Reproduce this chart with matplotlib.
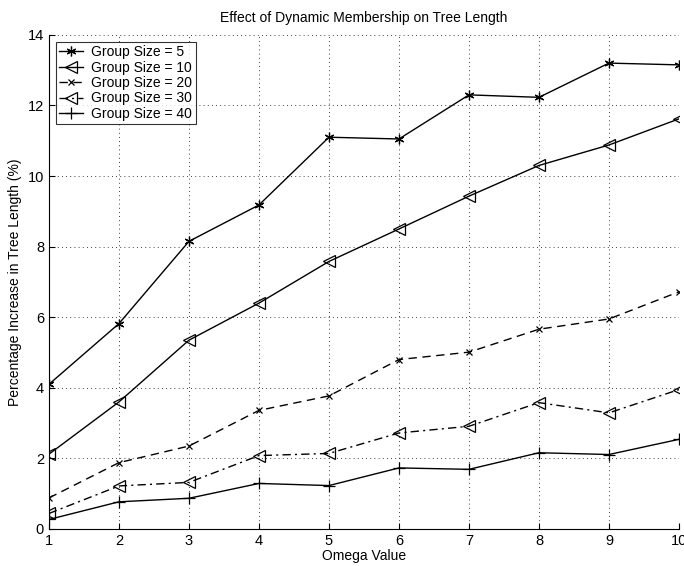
import matplotlib
matplotlib.use("Agg")
import matplotlib.pyplot as plt

plt.rcParams['font.family'] = ['Liberation Sans', 'DejaVu Sans']

# omega values on the x axis
omega = [1, 2, 3, 4, 5, 6, 7, 8, 9, 10]

# percentage increase in tree length, one list per group size
gs5 = [4.1, 5.82, 8.15, 9.18, 11.1, 11.05, 12.3, 12.23, 13.2, 13.15]
gs10 = [2.12, 3.6, 5.35, 6.4, 7.58, 8.5, 9.43, 10.3, 10.88, 11.62]
gs20 = [0.88, 1.88, 2.35, 3.36, 3.77, 4.8, 5.01, 5.66, 5.95, 6.72]
gs30 = [0.44, 1.22, 1.32, 2.08, 2.14, 2.72, 2.91, 3.58, 3.29, 3.95]
gs40 = [0.27, 0.77, 0.87, 1.29, 1.23, 1.73, 1.69, 2.16, 2.11, 2.54]

labels = ['Group Size = 5', 'Group Size = 10', 'Group Size = 20',
          'Group Size = 30', 'Group Size = 40']

fig = plt.figure(figsize=(6.84, 5.66), dpi=100)
ax = fig.add_axes([0.0716, 0.0654, 0.921, 0.873])

ax.plot(omega, gs5, color='black', lw=1, ls='-', marker=(6, 2, 0), ms=7, mew=0.9, label=labels[0])
ax.plot(omega, gs10, color='black', lw=1, ls='-', marker='<', ms=8, mfc='none', mew=0.9, label=labels[1])
ax.plot(omega, gs20, color='black', lw=1, ls=(0, (6, 4)), marker='x', ms=5, mew=0.9, label=labels[2])
ax.plot(omega, gs30, color='black', lw=1, ls=(0, (6, 3, 1.5, 3)), marker='<', ms=8, mfc='none', mew=0.9, label=labels[3])
ax.plot(omega, gs40, color='black', lw=1, ls='-', marker='+', ms=9, mew=0.9, label=labels[4])

ax.set_xlim(1, 10)
ax.set_ylim(0, 14)
ax.set_xticks(range(1, 11))
ax.set_yticks(range(0, 15, 2))
ax.tick_params(direction='in', length=4.5, labelsize=10.5, width=0.8)
ax.grid(True, ls=(0, (1, 4)), color='black', lw=0.6)
ax.spines['top'].set_visible(False)
ax.spines['right'].set_visible(False)

ax.set_title('Effect of Dynamic Membership on Tree Length', fontsize=10, pad=9)
ax.set_xlabel('Omega Value', fontsize=10, labelpad=1)
ax.set_ylabel('Percentage Increase in Tree Length (%)', fontsize=10, labelpad=4)

leg = ax.legend(loc='upper left', fontsize=10, frameon=True, fancybox=False,
                edgecolor='black', handlelength=1.7, handletextpad=0.6,
                borderpad=0.25, labelspacing=0.1, borderaxespad=0.5)
leg.get_frame().set_linewidth(0.8)

fig.savefig('out.png', dpi=100)
